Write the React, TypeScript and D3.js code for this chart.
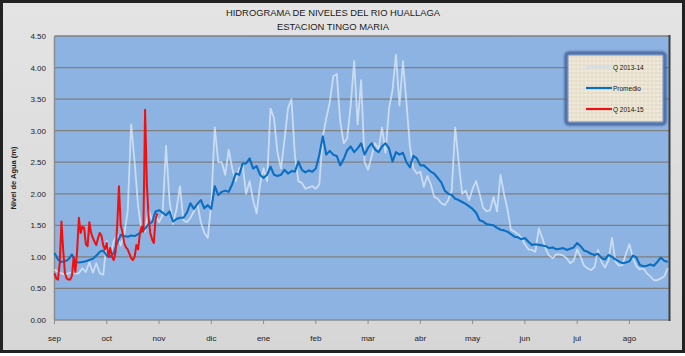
import React from 'react';
import * as d3 from 'd3';

const MONTHS = ['sep', 'oct', 'nov', 'dic', 'ene', 'feb', 'mar', 'abr', 'may', 'jun', 'jul', 'ago'];
const MONTH_STEP_DAYS = 30;
const Y_TICKS = [0, 0.5, 1, 1.5, 2, 2.5, 3, 3.5, 4, 4.5];
const SERIES_STEP_DAYS = 2;
const LAST_DAY = 353;

// Q 2013-14 (every 2 days from 1 sep)
const Q2013 = [
  0.80, 0.76, 0.74, 0.72, 0.74, 0.76, 0.74, 0.74, 0.82, 0.76,
  0.92, 0.75, 0.90, 0.74, 0.72, 1.25, 1.02, 1.25, 1.35, 1.18,
  1.35, 1.72, 3.10, 2.50, 1.80, 1.40, 1.40, 1.75, 1.58, 1.66,
  1.55, 1.66, 2.76, 1.90, 1.52, 1.75, 2.12, 1.58, 1.55, 1.62,
  1.72, 1.85, 1.55, 1.38, 1.30, 1.85, 3.05, 2.50, 2.50, 2.30,
  2.70, 2.40, 2.20, 2.40, 2.45, 2.00, 2.20, 1.90, 1.69, 2.15,
  2.40, 2.20, 3.35, 3.20, 2.65, 2.40, 2.85, 3.35, 3.50, 2.60,
  2.20, 2.17, 2.08, 2.10, 2.12, 2.08, 2.15, 2.90, 3.20, 3.45,
  3.86, 3.90, 3.15, 2.80, 2.88, 3.40, 4.10, 3.10, 3.80, 2.50,
  2.38, 2.59, 2.80, 2.70, 3.05, 2.65, 3.35, 3.64, 4.20, 3.40,
  4.10, 3.45, 2.75, 2.40, 2.32, 2.35, 2.11, 2.28, 2.15, 1.95,
  1.92, 1.85, 1.82, 1.90, 2.05, 3.05, 2.50, 2.00, 2.05, 1.90,
  2.08, 2.20, 2.00, 1.78, 1.72, 1.74, 1.95, 1.72, 2.30, 2.00,
  1.75, 1.43, 1.40, 1.36, 1.30, 1.20, 1.12, 1.11, 1.08, 1.45,
  1.30, 1.12, 1.02, 0.98, 1.04, 1.04, 1.02, 0.98, 0.90, 0.94,
  1.12, 1.00, 0.86, 0.82, 0.79, 0.84, 1.11, 0.92, 0.83, 0.95,
  1.30, 0.92, 0.86, 0.87, 1.05, 1.20, 0.98, 0.85, 0.80, 0.82,
  0.74, 0.69, 0.63, 0.63, 0.66, 0.69, 0.82,
];

// Promedio (every 2 days from 1 sep)
const PROMEDIO = [
  1.06, 0.96, 0.92, 0.93, 0.96, 1.04, 0.92, 0.91, 0.92, 0.93,
  0.95, 0.97, 1.02, 1.08, 1.10, 1.02, 1.00, 1.06, 1.22, 1.35,
  1.33, 1.32, 1.34, 1.33, 1.36, 1.40, 1.45, 1.52, 1.55, 1.72,
  1.74, 1.70, 1.66, 1.72, 1.56, 1.60, 1.62, 1.62, 1.70, 1.85,
  1.76, 1.84, 1.90, 1.77, 1.82, 1.76, 2.12, 1.98, 2.03, 2.05,
  2.03, 2.15, 2.32, 2.30, 2.48, 2.48, 2.56, 2.40, 2.44, 2.30,
  2.25, 2.30, 2.43, 2.30, 2.28, 2.30, 2.38, 2.32, 2.36, 2.35,
  2.51, 2.38, 2.34, 2.37, 2.35, 2.40, 2.62, 2.91, 2.62, 2.68,
  2.62, 2.60, 2.45, 2.55, 2.69, 2.75, 2.66, 2.72, 2.80, 2.62,
  2.73, 2.80, 2.70, 2.66, 2.75, 2.80, 2.72, 2.51, 2.66, 2.62,
  2.65, 2.50, 2.42, 2.60, 2.56, 2.45, 2.45, 2.40, 2.35, 2.32,
  2.25, 2.18, 2.05, 2.00, 1.98, 1.92, 1.90, 1.87, 1.84, 1.80,
  1.76, 1.70, 1.58, 1.56, 1.52, 1.51, 1.50, 1.46, 1.43, 1.42,
  1.40, 1.36, 1.32, 1.31, 1.28, 1.30, 1.24, 1.19, 1.20, 1.19,
  1.18, 1.17, 1.14, 1.15, 1.12, 1.13, 1.14, 1.11, 1.13, 1.15,
  1.22, 1.17, 1.10, 1.08, 1.05, 1.03, 1.05, 0.98, 0.96, 1.03,
  1.00, 0.96, 0.93, 0.90, 0.91, 0.93, 1.02, 0.99, 0.87, 0.85,
  0.86, 0.88, 0.86, 0.92, 0.99, 0.94, 0.92,
];

// Q 2014-15 (daily from 1 sep)
const Q2014 = [
  0.74, 0.66, 0.64, 0.90, 1.56, 1.10, 0.74, 0.66, 0.64, 0.64,
  0.70, 1.00, 0.76, 1.10, 1.62, 1.38, 1.48, 1.46, 1.20, 1.17,
  1.55, 1.38, 1.30, 1.24, 1.19, 1.30, 1.38, 1.33, 1.18, 1.12,
  1.22, 1.00, 1.14, 1.00, 0.95, 1.06, 1.50, 2.12, 1.50, 1.40,
  1.22, 1.15, 1.12, 1.05, 0.98, 0.95, 1.00, 1.19, 1.12, 1.37,
  1.48, 1.40, 3.33, 2.17, 1.62, 1.38, 1.28, 1.22, 1.60, 1.69,
];

const LEGEND = [
  { name: 'Q 2013-14', color: '#D3DFEE', width: 2.5 },
  { name: 'Promedio', color: '#0A6FC2', width: 2.2 },
  { name: 'Q 2014-15', color: '#F01010', width: 2.2 },
];

const W = 685;
const H = 356;
const PL = 54.5, PR = 669.5, PT = 36, PB = 320;

export default function App() {
  const x = d3.scaleLinear().domain([0, LAST_DAY]).range([PL, PR]);
  const y = d3.scaleLinear().domain([0, 4.5]).range([PB, PT]);

  const line = d3.line<[number, number]>().x(d => x(d[0])).y(d => y(d[1]));
  const toPts = (arr: number[], step: number) => arr.map((v, i) => [i * step, v] as [number, number]);

  const font = 'Liberation Sans, Arial, sans-serif';

  return (
    <svg width={W} height={H} style={{ position: 'absolute', left: 0, top: 0 }} xmlns="http://www.w3.org/2000/svg">
      <defs>
        <linearGradient id="bg" x1="0" y1="0" x2="0" y2="1">
          <stop offset="0" stopColor="#E4E4E4" />
          <stop offset="1" stopColor="#D6D6D6" />
        </linearGradient>
        <pattern id="linen" width="4" height="4" patternUnits="userSpaceOnUse">
          <rect width="4" height="4" fill="#EAE2D0" />
          <line x1="0" y1="1" x2="4" y2="1" stroke="#D6CBB2" strokeWidth="0.6" />
          <line x1="2" y1="0" x2="2" y2="4" stroke="#F7F2E6" strokeWidth="0.6" />
          <line x1="0" y1="3" x2="4" y2="3" stroke="#F5EFE2" strokeWidth="0.5" />
        </pattern>
        <filter id="blur" x="-10%" y="-10%" width="120%" height="120%">
          <feGaussianBlur stdDeviation="1.2" />
        </filter>
      </defs>
      <rect x={0} y={0} width={W} height={H} fill="#FFFFFF" />
      <rect x={1.5} y={1.5} width={W - 3} height={350} fill="url(#bg)" stroke="#222" strokeWidth={3} />

      {/* title */}
      <text x={333} y={16} textAnchor="middle" fontFamily={font} fontSize={9.5} fill="#1a1a1a"
        textLength={214} lengthAdjust="spacingAndGlyphs">HIDROGRAMA DE NIVELES  DEL RIO HUALLAGA</text>
      <text x={333} y={29.5} textAnchor="middle" fontFamily={font} fontSize={9.5} fill="#1a1a1a"
        textLength={112} lengthAdjust="spacingAndGlyphs">ESTACION TINGO MARIA</text>

      {/* plot area */}
      <rect x={PL} y={PT} width={PR - PL} height={PB - PT} fill="#8DB3E2" />
      {Y_TICKS.filter(t => t > 0).map(t => (
        <line key={t} x1={PL} x2={PR} y1={y(t)} y2={y(t)} stroke="#7F7F7F" strokeWidth={1.3} />
      ))}
      <line x1={PL} x2={PL} y1={PT} y2={PB} stroke="#8C8C8C" strokeWidth={1.5} />
      <line x1={PL} x2={PR} y1={PB} y2={PB} stroke="#8C8C8C" strokeWidth={1.5} />
      <line x1={PR} x2={PR} y1={PT - 1} y2={PB + 1} stroke="#404040" strokeWidth={2} />

      {/* y axis */}
      {Y_TICKS.map(t => (
        <text key={t} x={46} y={y(t) + 3} textAnchor="end" fontFamily={font} fontSize={8} fill="#222">
          {t.toFixed(2)}
        </text>
      ))}
      <text transform={`translate(15.5,${(PT + PB) / 2}) rotate(-90)`} textAnchor="middle" fontFamily={font}
        fontSize={7.5} fontWeight="bold" fill="#222">Nivel de Agua (m)</text>

      {/* x axis */}
      {MONTHS.map((m, i) => (
        <g key={m}>
          <line x1={x(i * MONTH_STEP_DAYS)} x2={x(i * MONTH_STEP_DAYS)} y1={PB} y2={PB + 4} stroke="#8C8C8C" strokeWidth={1} />
          <text x={x(i * MONTH_STEP_DAYS)} y={341} textAnchor="middle" fontFamily={font} fontSize={8} fill="#222">{m}</text>
        </g>
      ))}

      {/* series */}
      <path d={line(toPts(Q2013, SERIES_STEP_DAYS)) || ''} fill="none" stroke="#E2EBF6" strokeOpacity={0.72}
        strokeWidth={1.8} strokeLinejoin="round" />
      <path d={line(toPts(PROMEDIO, SERIES_STEP_DAYS)) || ''} fill="none" stroke="#0A6FC2"
        strokeWidth={2.1} strokeLinejoin="round" />
      <path d={line(toPts(Q2014, 1)) || ''} fill="none" stroke="#F01010"
        strokeWidth={2} strokeLinejoin="round" />

      {/* legend */}
      <rect x={566} y={53} width={99} height={71} rx={3} fill="none" stroke="#3F5F95" strokeWidth={3} filter="url(#blur)" />
      <rect x={568} y={55} width={95} height={67} fill="url(#linen)" stroke="#6E8DBE" strokeWidth={1} />
      {LEGEND.map((l, i) => (
        <g key={l.name}>
          <line x1={586} x2={612} y1={67 + i * 21} y2={67 + i * 21} stroke={l.color} strokeWidth={l.width} />
          <text x={613} y={69.5 + i * 21} fontFamily={font} fontSize={6.5} fill="#111">{l.name}</text>
        </g>
      ))}
    </svg>
  );
}
